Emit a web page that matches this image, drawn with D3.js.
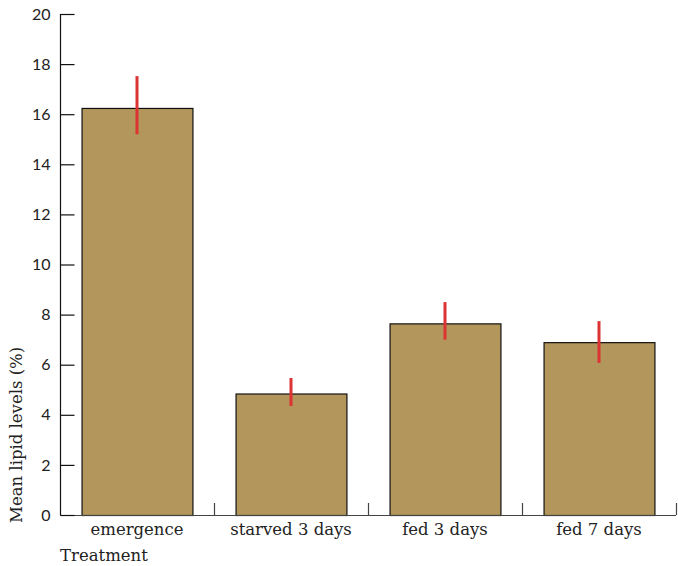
<!DOCTYPE html>
<html lang="en">
<head>
<meta charset="UTF-8">
<title>Mean lipid levels</title>
<style>
    body { margin: 0; padding: 0; background: #fff; }
    .tick-y text { font-family: Lato, "Open Sans", sans-serif; font-size: 16px; fill: #222; }
    .cat { font-family: "DejaVu Serif", serif; font-size: 16.5px; fill: #222; }
</style>
</head>
<body>
<div id="svg"></div>
<script src="https://cdn.jsdelivr.net/npm/d3@7"></script>
<script>
    // data
    const categories = ["emergence", "starved 3 days", "fed 3 days", "fed 7 days"];
    const means = [16.25, 4.85, 7.65, 6.9];
    const errLow = [15.2, 4.35, 7.0, 6.07];
    const errHigh = [17.52, 5.47, 8.5, 7.74];
    const yTicks = [0, 2, 4, 6, 8, 10, 12, 14, 16, 18, 20];

    const w = 678, h = 566;
    const plotLeft = 60, plotRight = 676, plotTop = 14, plotBottom = 515;

    const svg = d3.select("#svg").append("svg")
        .attr("width", w).attr("height", h);

    const y = d3.scaleLinear().domain([0, 20]).range([plotBottom, plotTop]);
    const x = d3.scaleBand().domain(categories).range([plotLeft, plotRight])
        .paddingInner(0.28).paddingOuter(0.14);
    const xb = d3.scaleBand().domain(categories).range([plotLeft, plotRight]);

    // bars
    svg.selectAll(".bar").data(categories).enter().append("rect")
        .attr("class", "bar")
        .attr("x", d => x(d) + 0.5)
        .attr("y", (d, i) => y(means[i]) + 0.5)
        .attr("width", x.bandwidth())
        .attr("height", (d, i) => plotBottom - y(means[i]))
        .attr("fill", "#b3965b")
        .attr("stroke", "#111")
        .attr("stroke-width", 1.2);

    // error bars
    svg.selectAll(".err").data(categories).enter().append("line")
        .attr("x1", d => x(d) + x.bandwidth() / 2)
        .attr("x2", d => x(d) + x.bandwidth() / 2)
        .attr("y1", (d, i) => y(errLow[i]))
        .attr("y2", (d, i) => y(errHigh[i]))
        .attr("stroke", "#dd3333")
        .attr("stroke-width", 3);

    // x axis line + boundary ticks
    svg.append("line")
        .attr("x1", plotLeft).attr("x2", plotRight)
        .attr("y1", plotBottom + 0.5).attr("y2", plotBottom + 0.5)
        .attr("stroke", "#444").attr("stroke-width", 1.2);

    svg.selectAll(".xtick").data(categories).enter().append("line")
        .attr("x1", d => xb(d) + xb.bandwidth() + 0.5)
        .attr("x2", d => xb(d) + xb.bandwidth() + 0.5)
        .attr("y1", plotBottom - 12).attr("y2", plotBottom)
        .attr("stroke", "#444").attr("stroke-width", 1.2);

    svg.selectAll(".cat").data(categories).enter().append("text")
        .attr("class", "cat")
        .attr("x", d => xb(d) + xb.bandwidth() / 2)
        .attr("y", plotBottom + 20)
        .attr("text-anchor", "middle")
        .text(d => d);

    // y axis
    const yAxis = d3.axisRight(y).tickValues(yTicks).tickSize(14).tickFormat(d3.format("d"));
    const gy = svg.append("g").attr("class", "tick-y")
        .attr("transform", `translate(${plotLeft + 0.5},0)`)
        .call(yAxis);
    gy.select(".domain").attr("stroke", "#111").attr("stroke-width", 1.2)
        .attr("d", `M0,${plotBottom}V${plotTop}`);
    gy.selectAll(".tick line").attr("stroke", "#111").attr("stroke-width", 1.2);
    gy.selectAll(".tick text")
        .attr("x", -10)
        .attr("text-anchor", "end");

    // axis titles
    svg.append("text").attr("class", "cat")
        .attr("transform", `translate(22, ${plotBottom + 8}) rotate(-90)`)
        .attr("text-anchor", "start")
        .text("Mean lipid levels (%)");

    svg.append("text").attr("class", "cat")
        .attr("x", plotLeft).attr("y", 561)
        .text("Treatment");
</script>
</body>
</html>
